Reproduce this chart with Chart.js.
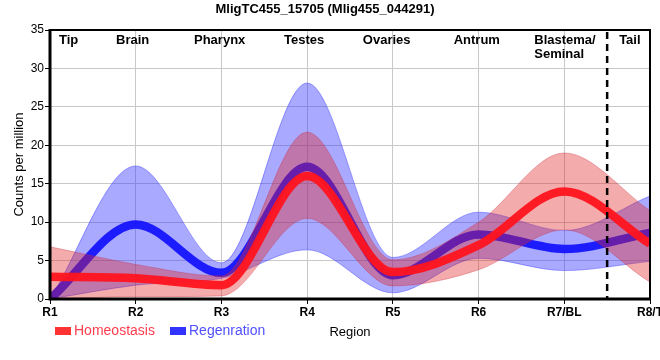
<!DOCTYPE html>
<html>
<head>
<meta charset="utf-8">
<script src="https://cdn.jsdelivr.net/npm/chart.js@4"></script>
<style>
  body { margin: 0; background: #fff; }
</style>
</head>
<body>
<canvas id="myChart" width="660" height="360"></canvas>
<script>
// data
const categories = ['R1', 'R2', 'R3', 'R4', 'R5', 'R6', 'R7/BL', 'R8/T'];
const homeoMean = [2.9, 2.7, 1.8, 16.0, 3.5, 7.0, 14.0, 7.2];
const homeoLow  = [0, 0.3, 0.4, 10.5, 1.7, 3.8, 9.0, 2.2];
const homeoHigh = [6.8, 4.5, 3.0, 21.7, 5.1, 10.0, 19.0, 11.5];
const regenMean = [0, 9.7, 3.4, 17.2, 3.1, 8.4, 6.5, 8.6];
const regenLow  = [0, 1.8, 2.7, 6.4, 0.8, 5.3, 3.7, 4.9];
const regenHigh = [0, 17.3, 4.7, 28.1, 5.4, 11.3, 8.9, 13.4];
const regionNames = ['Tip', 'Brain', 'Pharynx', 'Testes', 'Ovaries', 'Antrum', 'Blastema/\nSeminal', 'Tail'];

// where the region names start, in category units
const regionPos = [0.105, 0.77, 1.68, 2.73, 3.65, 4.71, 5.65, 6.64];
const tailSplit = 6.5;

Chart.defaults.font.family = "'Liberation Sans', Arial, sans-serif";
Chart.defaults.color = '#000';

const extras = {
  id: 'extras',
  afterDatasetsDraw(chart) {
    const {ctx, chartArea: a, scales: {x, y}} = chart;
    ctx.save();
    // frame
    ctx.strokeStyle = '#000';
    ctx.lineWidth = 2;
    ctx.beginPath();
    ctx.moveTo(a.left, a.top); ctx.lineTo(a.right, a.top); ctx.lineTo(a.right, a.bottom);
    ctx.stroke();
    ctx.lineWidth = 3;
    ctx.beginPath();
    ctx.moveTo(a.left, a.top - 1); ctx.lineTo(a.left, a.bottom); ctx.lineTo(a.right + 1, a.bottom);
    ctx.stroke();

    // dashed line before the tail
    const dx = x.getPixelForValue(tailSplit);
    ctx.lineWidth = 2.5;
    ctx.setLineDash([7, 5]);
    ctx.beginPath();
    ctx.moveTo(dx, a.top + 2); ctx.lineTo(dx, a.bottom);
    ctx.stroke();
    ctx.setLineDash([]);

    // region names
    ctx.fillStyle = '#000';
    ctx.font = "bold 13px 'Liberation Sans', Arial, sans-serif";
    ctx.textAlign = 'left';
    ctx.textBaseline = 'middle';
    regionNames.forEach((name, i) => {
      const px = x.getPixelForValue(regionPos[i]);
      name.split('\n').forEach((line, j) => {
        ctx.fillText(line, px, a.top + 10 + j * 14);
      });
    });

    // legend
    const items = [
      {label: 'Homeostasis', box: '#ff3333', text: '#ff3d4d', x: 55},
      {label: 'Regenration', box: '#3333ff', text: '#5050ff', x: 170}
    ];
    ctx.font = "14px 'Liberation Sans', Arial, sans-serif";
    items.forEach(it => {
      ctx.fillStyle = it.box;
      ctx.fillRect(it.x, 327, 16, 8);
      ctx.fillStyle = it.text;
      ctx.fillText(it.label, it.x + 19, 331);
    });
    ctx.restore();
  }
};

const ctx = document.getElementById('myChart');

new Chart(ctx, {
  type: 'line',
  data: {
    labels: categories,
    datasets: [
      { label: 'Homeostasis', data: homeoMean, borderColor: 'rgba(255,20,30,0.95)', borderWidth: 8.5, order: 0 },
      { label: 'Homeostasis high', data: homeoHigh, fill: 2, backgroundColor: 'rgba(225,35,35,0.38)', borderColor: 'rgba(200,40,60,0.35)', borderWidth: 1, order: 1 },
      { label: 'Homeostasis low', data: homeoLow, borderColor: 'rgba(200,40,60,0.35)', borderWidth: 1, order: 2 },
      { label: 'Regenration', data: regenMean, borderColor: 'rgba(20,20,255,0.95)', borderWidth: 8.5, order: 3 },
      { label: 'Regenration high', data: regenHigh, fill: 5, backgroundColor: 'rgba(50,50,255,0.42)', borderColor: 'rgba(60,60,255,0.45)', borderWidth: 1, order: 4 },
      { label: 'Regenration low', data: regenLow, borderColor: 'rgba(60,60,255,0.45)', borderWidth: 1, order: 5 }
    ]
  },
  options: {
    responsive: false,
    animation: false,
    clip: 0,
    elements: {
      point: { radius: 0, hoverRadius: 0 },
      line: { cubicInterpolationMode: 'monotone', fill: false }
    },
    layout: { padding: { left: 0, right: 10, top: 0, bottom: 16 } },
    plugins: {
      legend: { display: false },
      tooltip: { enabled: false },
      title: {
        display: true,
        text: 'MligTC455_15705 (Mlig455_044291)',
        font: { size: 13, weight: 'bold' },
        color: '#000',
        padding: { top: 1.2, bottom: 13.2 }
      }
    },
    scales: {
      x: {
        grid: { color: '#c8c8c8', tickColor: '#000', tickLength: 5 },
        border: { display: false },
        ticks: { font: { size: 12, weight: 'bold' }, color: '#000', padding: 1, maxRotation: 0, autoSkip: false },
        title: { display: true, text: 'Region', font: { size: 13 }, color: '#000', padding: { top: 0, bottom: 4 } },
        afterFit(s) { s.height = 45; s.paddingLeft = 0; s.paddingRight = 0; }
      },
      y: {
        min: 0,
        max: 35,
        grid: { color: '#c8c8c8', tickColor: '#000', tickLength: 5 },
        border: { display: false },
        ticks: { stepSize: 5, font: { size: 12 }, color: '#000', padding: 1 },
        title: { display: true, text: 'Counts per million', font: { size: 13 }, color: '#000', padding: { top: 12, bottom: 0 } },
        afterFit(s) { s.width = 50; }
      }
    }
  },
  plugins: [extras]
});
</script>
</body>
</html>
